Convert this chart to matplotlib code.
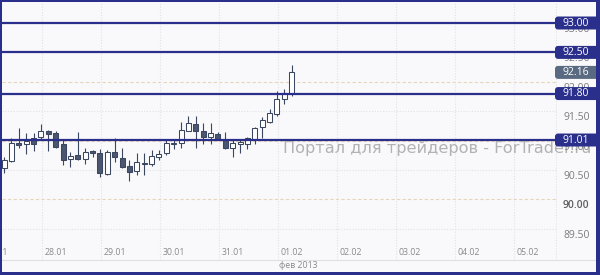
import matplotlib
matplotlib.use("Agg")
import matplotlib.pyplot as plt
from matplotlib.patches import Rectangle, FancyBboxPatch
from matplotlib.lines import Line2D
from matplotlib.transforms import IdentityTransform, blended_transform_factory

# ---------------- data ----------------
opens  = [90.53, 90.65, 90.96, 90.94, 91.04, 91.06, 91.16, 91.13, 90.94, 90.69,
          90.76, 90.69, 90.82, 90.79, 90.43, 90.81, 90.70, 90.57, 90.48, 90.60,
          90.60, 90.72, 90.79, 90.94, 90.96, 91.16, 91.28, 91.16, 91.06, 91.11,
          91.01, 90.87, 90.94, 90.94, 91.03, 91.23, 91.32, 91.45, 91.71, 91.81]
highs  = [90.72, 91.04, 91.21, 91.13, 91.13, 91.28, 91.18, 91.16, 91.01, 90.81,
          91.15, 90.87, 90.84, 90.86, 90.84, 91.04, 90.87, 90.67, 90.79, 90.79,
          90.84, 90.84, 91.01, 91.03, 91.32, 91.42, 91.42, 91.30, 91.30, 91.15,
          91.15, 91.01, 91.01, 91.06, 91.23, 91.40, 91.54, 91.84, 91.88, 92.29]
lows   = [90.45, 90.64, 90.87, 90.77, 90.82, 91.01, 90.82, 90.87, 90.59, 90.55,
          90.67, 90.60, 90.72, 90.38, 90.42, 90.64, 90.53, 90.31, 90.42, 90.42,
          90.57, 90.67, 90.76, 90.86, 90.87, 91.16, 90.87, 90.94, 90.94, 91.01,
          90.86, 90.72, 90.79, 90.86, 90.94, 91.04, 91.30, 91.42, 91.62, 91.76]
closes = [90.67, 90.96, 90.93, 90.99, 90.94, 91.16, 91.12, 90.89, 90.67, 90.74,
          90.69, 90.81, 90.79, 90.45, 90.81, 90.72, 90.55, 90.47, 90.64, 90.62,
          90.74, 90.77, 90.96, 90.96, 91.18, 91.30, 91.16, 91.06, 91.13, 91.01,
          90.87, 90.96, 90.97, 91.04, 91.21, 91.35, 91.47, 91.71, 91.81, 92.16]

levels = [93.00, 92.50, 91.80, 91.01]
last_price = 92.16
price_ticks = [93.00, 92.50, 92.00, 91.50, 91.00, 90.50, 90.00, 89.50]
day_labels = ["27.01", "28.01", "29.01", "30.01", "31.01",
              "01.02", "02.02", "03.02", "04.02", "05.02"]
month_label = "фев 2013"
watermark = "Портал для трейдеров - ForTrader.ru"

bars_per_day = 8          # 3-hour candles
first_bar_center = 0.356  # days after 27.01 00:00

# ---------------- style ----------------
W, H = 600, 275
BG = "#f9f9fb"
NAVY = "#2b2f8c"
SLATE = "#5a6a80"
CANDLE_EDGE = "#3b4760"
CANDLE_DOWN = "#4b5770"
TICK_COL = "#7c7c7c"

plt.rcParams["font.family"] = ["Open Sans", "DejaVu Sans"]

fig = plt.figure(figsize=(W / 100, H / 100), dpi=100)
fig.patch.set_facecolor(BG)

# plot area in pixels: x 2..557, y(top-down) 2..260
ax = fig.add_axes([2 / W, 1 - 260 / H, (557 - 2) / W, (260 - 2) / H])
ax.set_facecolor(BG)
px_per_day = 59.0
px_per_unit = 58.8
ax.set_xlim(1 + (2 - 42) / px_per_day, 1 + (557 - 42) / px_per_day)
ax.set_ylim(93 - (260 - 23) / px_per_unit, 93 + (23 - 2) / px_per_unit)
for s in ax.spines.values():
    s.set_visible(False)
ax.set_xticks([])
ax.set_yticks([])

# grid
for v in price_ticks:
    if abs(v - round(v)) < 1e-9:
        ax.axhline(v, color="#e6d6b8", lw=0.8, ls=(0, (3, 2)), zorder=1)
    else:
        ax.axhline(v, color="#e2e2e7", lw=0.8, ls=(0, (1, 1.5)), zorder=1)
for k in range(len(day_labels)):
    ax.axvline(k, color="#e2e2e7", lw=0.8, ls=(0, (1, 1.5)), zorder=1)
ax.axvline(ax.get_xlim()[1] - 0.01, color="#e2e2e7", lw=0.8, ls=(0, (1, 1.5)), zorder=1)

# candles
body_w = 5.0 / px_per_day
xs = [first_bar_center + i / bars_per_day for i in range(len(opens))]
ax.vlines(xs, lows, highs, color=CANDLE_EDGE, lw=0.8, zorder=3)
for x, o, c in zip(xs, opens, closes):
    bottom = min(o, c)
    height = max(abs(c - o), 0.02)
    fc = "#ffffff" if c >= o else CANDLE_DOWN
    ax.bar(x, height, width=body_w, bottom=bottom, color=fc,
           edgecolor=CANDLE_EDGE, linewidth=0.75, zorder=4)

# level lines
for lv in levels:
    ax.axhline(lv, color=NAVY, lw=1.6, zorder=5)

fig.canvas.draw()
ident = IdentityTransform()


def ypx(v):
    return ax.transData.transform((0, v))[1]


# watermark, fitted to span roughly x 283..592
wm = fig.text(283, ypx(90.86), watermark, transform=ident, ha="left", va="center",
              color="#b2b2b2", fontsize=11, family=["DejaVu Sans"], zorder=6)
fig.canvas.draw()
wext = wm.get_window_extent()
wm.set_fontsize(11 * 309 / wext.width)

# right price labels
for v in price_ticks:
    bold = abs(v - 90.0) < 1e-9
    fig.text(563, ypx(v) - 6.5, f"{v:.2f}", transform=ident, ha="left", va="center",
             color="#5e5e5e" if bold else TICK_COL, fontsize=7.5,
             fontweight="semibold" if bold else "normal", zorder=7)

# level boxes
def level_box(v, color):
    yc = ypx(v)
    box = FancyBboxPatch((555, yc - 6.5), 48, 13,
                         boxstyle="round,pad=0,rounding_size=3",
                         transform=ident, facecolor=color, edgecolor="none", zorder=8)
    fig.add_artist(box)
    fig.text(575.5, yc, f"{v:.2f}", transform=ident, ha="center", va="center",
             color="white", fontsize=7.5, zorder=9)

for lv in levels:
    level_box(lv, NAVY)
level_box(last_price, SLATE)

# date labels
bt = blended_transform_factory(ax.transData, ident)
for k, lab in enumerate(day_labels):
    xp = ax.transData.transform((k, 0))[0] + 2.5
    fig.text(xp, H - 252.5, lab, transform=ident, ha="left", va="center",
             color="#8a8a8a", fontsize=6.3, zorder=6)
xm = ax.transData.transform((day_labels.index("01.02"), 0))[0] + 1
fig.text(xm, H - 266, month_label, transform=ident, ha="left", va="center",
         color="#8a8a8a", fontsize=6.3, zorder=6)

# separator line under date row
fig.add_artist(Line2D([2, 596], [H - 260, H - 260], transform=ident,
                      color="#e0e0e4", lw=0.8, zorder=6))

# frame
for (x0, y0, w, h) in [(0, 0, 2, H), (596, 0, 4, H), (0, H - 2, W, 2), (0, 0, W, 3)]:
    fig.add_artist(Rectangle((x0, y0), w, h, transform=ident,
                             facecolor=NAVY, edgecolor="none", zorder=20))

fig.savefig("out.png", dpi=100, facecolor=BG)
